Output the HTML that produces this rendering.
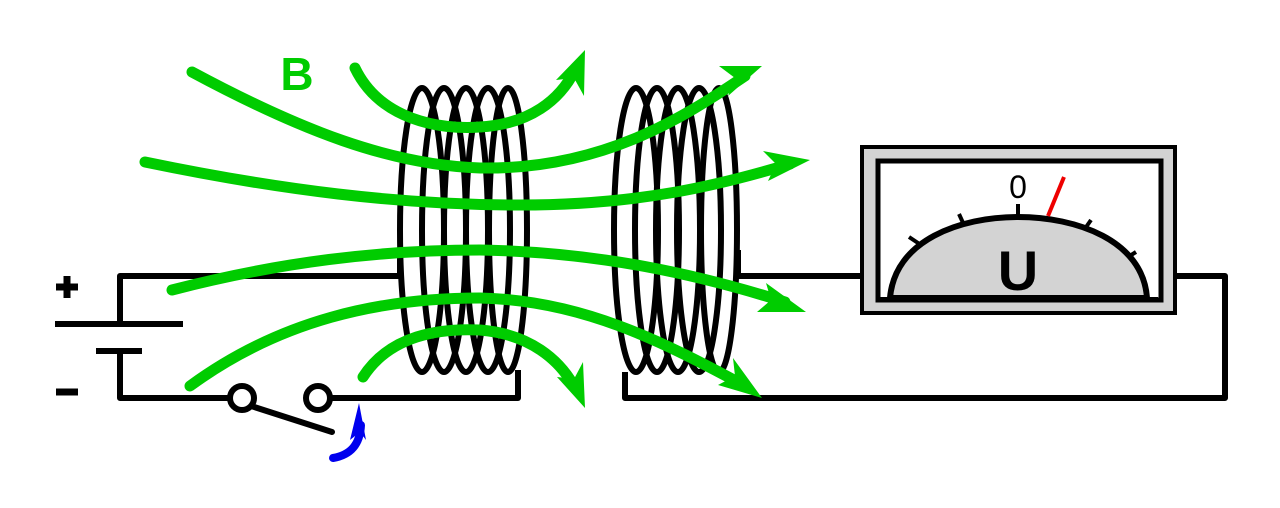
<!DOCTYPE html>
<html><head><style>html,body{margin:0;padding:0;background:#fff}svg{display:block}</style></head>
<body>
<svg width="1280" height="508" viewBox="0 0 1280 508" xmlns="http://www.w3.org/2000/svg">
<g fill="none" stroke="#000" stroke-width="6" stroke-linejoin="round">
<path d="M400,276 H120 V322"/>
<path d="M55,324 H183"/>
<path d="M96,351 H142"/>
<path d="M120,351 V398 H232"/>
<path d="M330,398 H518 V370"/>
<path d="M400,276 V255"/>
<path d="M625,372 V398 H1225 V276 H1177"/>
<path d="M738,250 V276 H860"/>
<path d="M248,405 L332,432" stroke-linecap="round"/>
<circle cx="242" cy="398" r="12" fill="#fff"/>
<circle cx="318" cy="398" r="12" fill="#fff"/>
<ellipse cx="422" cy="230" rx="22" ry="142"/>
<ellipse cx="444" cy="230" rx="22" ry="142"/>
<ellipse cx="466" cy="230" rx="22" ry="142"/>
<ellipse cx="488" cy="230" rx="22" ry="142"/>
<ellipse cx="508" cy="230" rx="19" ry="142"/>
<ellipse cx="636" cy="230" rx="22" ry="142"/>
<ellipse cx="657" cy="230" rx="22" ry="142"/>
<ellipse cx="678" cy="230" rx="22" ry="142"/>
<ellipse cx="699" cy="230" rx="22" ry="142"/>
<ellipse cx="719" cy="230" rx="18" ry="142"/>
</g>
<g fill="none" stroke="#00cc00" stroke-width="11" stroke-linecap="round">
<path d="M192,72 C300,130 390,165 480,168 C600,170 680,120 745,76"/>
<path d="M145,162 C280,190 400,205 520,205 C640,205 720,185 790,164"/>
<path d="M172,290 C280,262 380,250 480,250 C600,252 700,275 785,302"/>
<path d="M190,386 C280,320 380,298 480,298 C580,300 660,340 745,386"/>
<path d="M355,68 C380,120 440,130 480,127 C530,124 560,100 575,70"/>
<path d="M363,377 C390,335 440,328 480,330 C530,334 560,360 575,388"/>
</g>
<g fill="#00cc00">
<polygon points="585,50 584,96 574,78 556,80"/>
<polygon points="762,66 728,96 735,78 719,66"/>
<polygon points="810,160 768,181 776,164 763,151"/>
<polygon points="806,312 757,312 771,300 766,283"/>
<polygon points="762,398 718,385 735,376 733,358"/>
<polygon points="585,408 557,377 574,379 583,362"/>
<text x="297" y="90" font-family="Liberation Sans, sans-serif" font-weight="bold" font-size="46" text-anchor="middle">B</text>
</g>
<path d="M333,458 C350,455 360,445 361,425" fill="none" stroke="#0000ee" stroke-width="8" stroke-linecap="round"/>
<polygon points="359,403 366,440 360,432 350,440" fill="#0000ee"/>
<g stroke="#000" stroke-width="7">
<path d="M56,287 H78 M67,276 V298"/>
<path d="M56,392 H78"/>
</g>
<rect x="862" y="147" width="313" height="166" fill="#d3d3d3" stroke="#000" stroke-width="4"/>
<rect x="878" y="161" width="283" height="139" fill="#fff" stroke="#000" stroke-width="5"/>
<path d="M890,298 C895,240 960,217 1018,217 C1076,217 1143,240 1147,298 Z" fill="#d3d3d3" stroke="#000" stroke-width="6"/>
<rect x="880" y="297" width="11" height="4" fill="#000"/>
<rect x="1147" y="297" width="11" height="4" fill="#000"/>
<g stroke="#000" stroke-width="4">
<path d="M1018,204 V217"/>
<path d="M959,214 L964,225"/>
<path d="M909,237 L921,245"/>
<path d="M1091,220 L1084,230"/>
<path d="M1136,252 L1128,257"/>
</g>
<path d="M1064,177 L1048,216" stroke="#ee0000" stroke-width="4"/>
<text x="1018" y="198" font-family="Liberation Sans, sans-serif" font-size="32" text-anchor="middle">0</text>
<text x="1018" y="290" font-family="Liberation Sans, sans-serif" font-weight="bold" font-size="56" text-anchor="middle">U</text>
</svg>
</body></html>
